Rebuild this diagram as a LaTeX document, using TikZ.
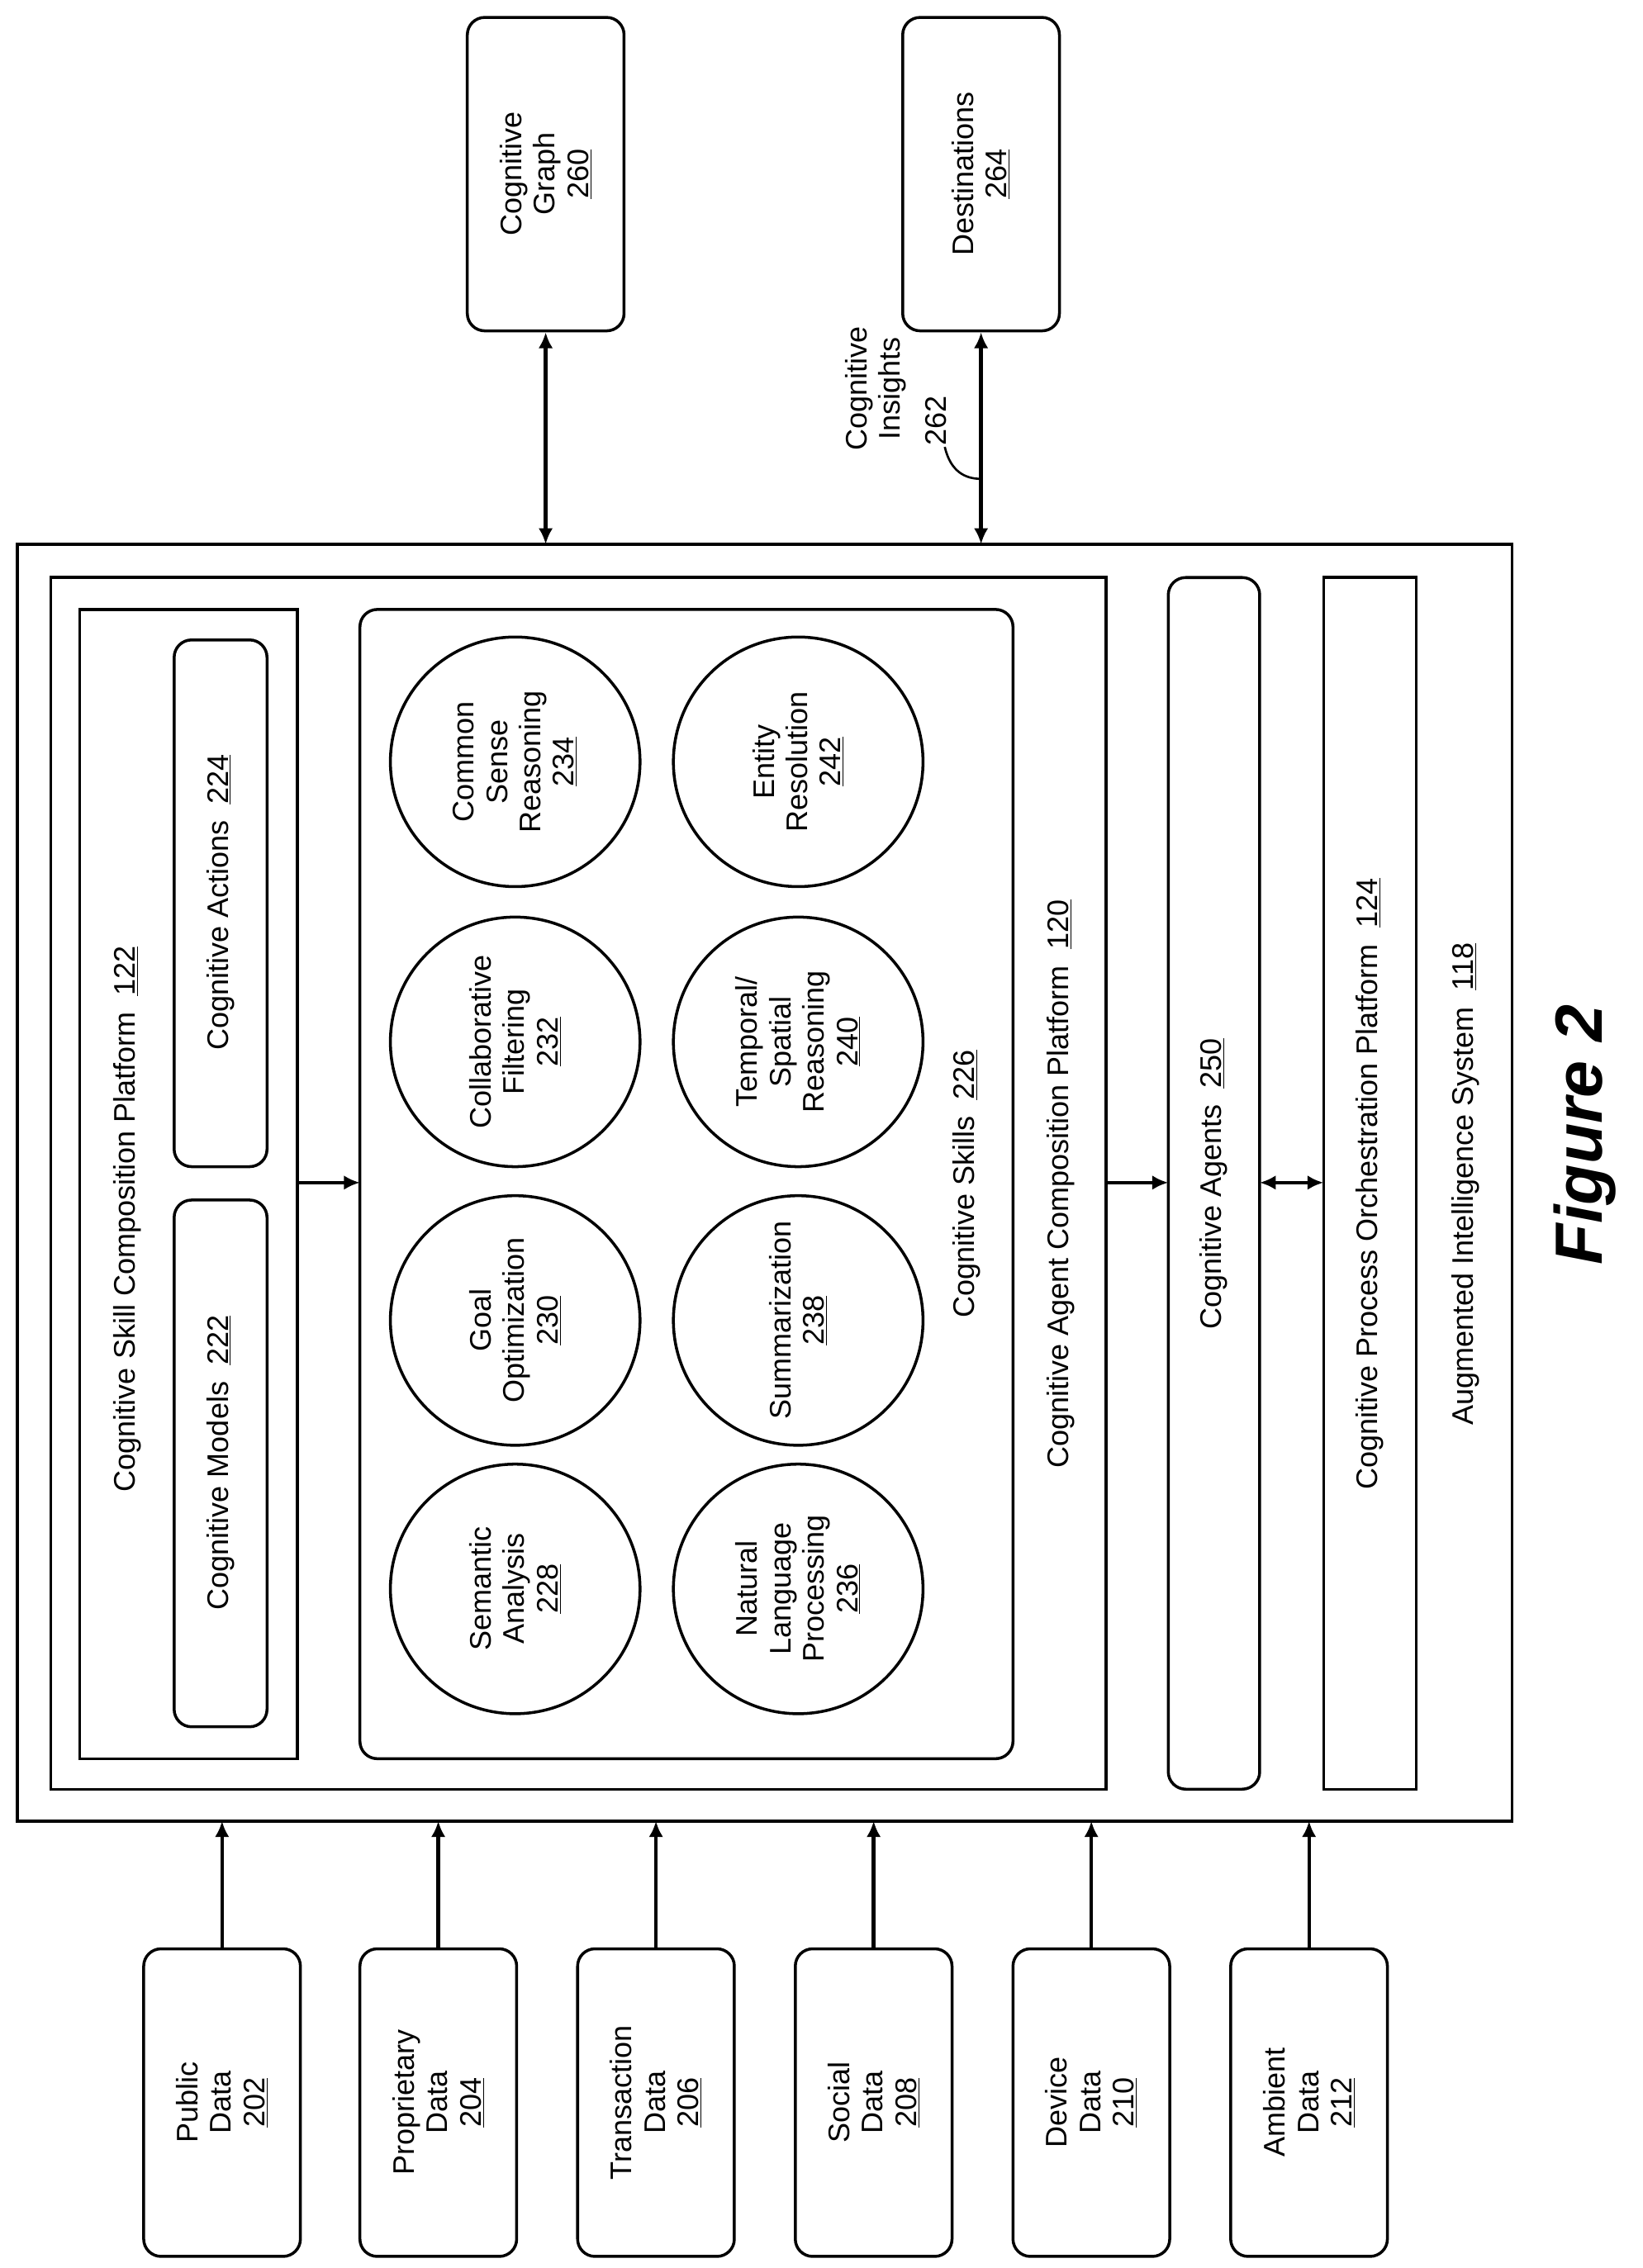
\documentclass[tikz,border=0pt]{standalone}
\usepackage{fontspec}
\setmainfont{Liberation Sans}
\usetikzlibrary{arrows.meta}
\begin{document}
\begin{tikzpicture}[x=1pt,y=-1pt,
  box/.style={draw,line width=2pt},
  rbox/.style={draw,line width=2pt,rounded corners=12pt},
  circ/.style={draw,line width=2pt,circle,minimum size=172pt,inner sep=0pt,align=center,rotate=90,font=\fontsize{20.5}{23}\selectfont},
  lbl/.style={rotate=90,align=center,font=\fontsize{20.5}{23}\selectfont},
  arr/.style={line width=2.5pt,-{Latex[length=11pt,width=10pt]}},
  darr/.style={line width=2.5pt,{Latex[length=11pt,width=10pt]}-{Latex[length=11pt,width=10pt]}}]
\useasboundingbox (0,0) rectangle (1132,1563);
% frames
\draw[box] (12,375) rectangle (1042,1255);
\draw[box] (35,398) rectangle (762,1233);
\draw[box] (55,420) rectangle (205,1212);
\draw[rbox] (120,827) rectangle (184,1190);
\draw[rbox] (120,441) rectangle (184,804);
\draw[rbox] (248,420) rectangle (698,1212);
\draw[rbox] (805,398) rectangle (868,1233);
\draw[box] (912,398) rectangle (976,1233);
\node[lbl] (l122) at (88,840) {Cognitive Skill Composition Platform \ \underline{122}};
\node[lbl] (l222) at (152,1008) {Cognitive Models \ \underline{222}};
\node[lbl] (l224) at (152,622) {Cognitive Actions \ \underline{224}};
\node[lbl] (l226) at (666,816) {Cognitive Skills \ \underline{226}};
\node[lbl] (l120) at (731,816) {Cognitive Agent Composition Platform \ \underline{120}};
\node[lbl] (l250) at (836,816) {Cognitive Agents \ \underline{250}};
\node[lbl] (l124) at (944,816) {Cognitive Process Orchestration Platform \ \underline{124}};
\node[lbl] (l118) at (1010,816) {Augmented Intelligence System \ \underline{118}};
% circles
\node[circ] (c228) at (355,1095) {Semantic\\Analysis\\\underline{228}};
\node[circ] (c230) at (355,910) {Goal\\Optimization\\\underline{230}};
\node[circ] (c232) at (355,718) {Collaborative\\Filtering\\\underline{232}};
\node[circ] (c234) at (355,525) {Common\\Sense\\Reasoning\\\underline{234}};
\node[circ] (c236) at (550,1095) {Natural\\Language\\Processing\\\underline{236}};
\node[circ] (c238) at (550,910) {Summarization\\\underline{238}};
\node[circ] (c240) at (550,718) {Temporal/\\Spatial\\Reasoning\\\underline{240}};
\node[circ] (c242) at (550,525) {Entity\\Resolution\\\underline{242}};
% internal arrows
\coordinate (a1) at (205,815); \coordinate (a2) at (248,815);
\coordinate (a3) at (762,815); \coordinate (a4) at (805,815);
\coordinate (a5) at (868,815); \coordinate (a6) at (912,815);
\draw[arr] (a1) -- (a2);
\draw[arr] (a3) -- (a4);
\draw[darr] (a5) -- (a6);
% top boxes
\node[rbox,minimum width=108pt,minimum height=216pt] (g260) at (376,120) {};
\node[lbl] at (g260) {Cognitive\\Graph\\\underline{260}};
\node[rbox,minimum width=108pt,minimum height=216pt] (d264) at (676,120) {};
\node[lbl] at (d264) {Destinations\\\underline{264}};
\coordinate (t1) at (376,375); \coordinate (t2) at (676,375);
\draw[darr] (g260.south) -- (t1);
\draw[darr] (d264.south) -- (t2);
\node[lbl] (ins) at (613,268) {Cognitive\\Insights\\\phantom{262}};
\node[rotate=90,font=\fontsize{20.5}{23}\selectfont] (n262) at (645,290) {262};
\coordinate (ins1) at (676,330);
\draw[line width=1.5pt] (651,308) .. controls (655,325) and (665,330) .. (ins1);
% bottom data boxes
\foreach \x/\t/\n in {153/Public\\Data/202, 302/Proprietary\\Data/204, 452/Transaction\\Data/206, 602/Social\\Data/208, 752/Device\\Data/210, 902/Ambient\\Data/212}{
  \node[rbox,minimum width=108pt,minimum height=212pt] (b\n) at (\x,1449) {};
  \node[lbl] at (b\n) {\t\\\underline{\n}};
  \coordinate (e\n) at (\x,1255);
  \draw[arr] (b\n.north) -- (e\n);
}
\node[rotate=90,font=\fontsize{46}{50}\selectfont\bfseries\itshape] (fig) at (1092,782) {Figure 2};
\end{tikzpicture}
\end{document}
